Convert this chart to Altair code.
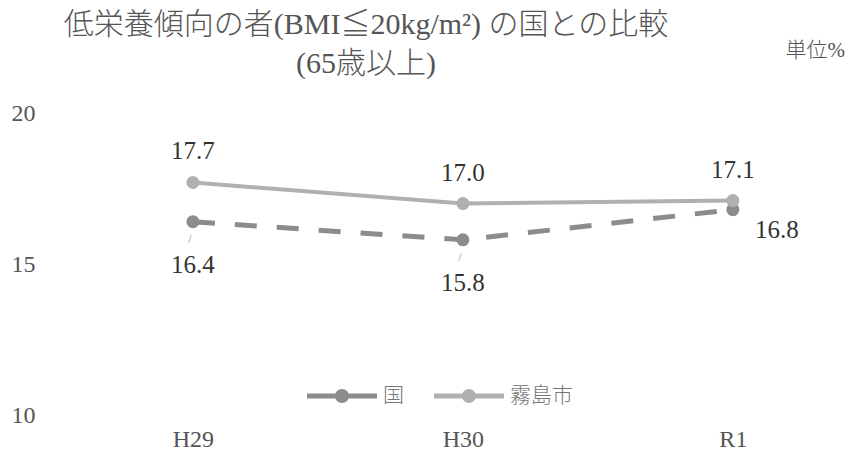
import altair as alt
import pandas as pd

years = ["H29", "H30", "R1"]
series_names = ["国", "霧島市"]
kuni = [16.4, 15.8, 16.8]
kirishima = [17.7, 17.0, 17.1]

rows = []
for i, y in enumerate(years):
    rows.append({"year": y, "series": "国", "value": kuni[i]})
    rows.append({"year": y, "series": "霧島市", "value": kirishima[i]})
df = pd.DataFrame(rows)

FONT = "Liberation Serif, Noto Sans CJK JP"
colors = ["#8c8c8c", "#b0b0b0"]

legend_path = ("M-1,-0.07H1V0.07H-1Z "
               "M0.2,0 A0.2,0.2 0 1,1 -0.2,0 A0.2,0.2 0 1,1 0.2,0Z")

x_enc = alt.X("year:N", sort=years,
              scale=alt.Scale(type="point", padding=0.515, align=0.55),
              axis=alt.Axis(title=None, labelAngle=0, domain=False, ticks=False,
                            labelFont=FONT, labelFontSize=24, labelColor="#555",
                            labelPadding=12, grid=False))
y_enc = alt.Y("value:Q", scale=alt.Scale(domain=[10, 20], nice=False, zero=False),
              axis=alt.Axis(values=[10, 15, 20], title="単位%", titleAngle=0,
                            titleX=745, titleY=-63, titleAlign="left",
                            titleBaseline="middle", titleFont=FONT,
                            titleFontSize=21, titleFontWeight=300,
                            titleColor="#555",
                            domain=False, ticks=False, grid=False,
                            labelFont=FONT, labelFontSize=24, labelColor="#555",
                            labelPadding=5))

base = alt.Chart(df)

line_kuni = base.transform_filter(alt.datum.series == "国").mark_line(
    strokeWidth=5, strokeDash=[22, 20], color=colors[0]
).encode(x=x_enc, y=y_enc)

line_kiri = base.transform_filter(alt.datum.series == "霧島市").mark_line(
    strokeWidth=4, color=colors[1]
).encode(x=x_enc, y=y_enc)

points = base.mark_point(filled=True, size=170, opacity=1).encode(
    x=x_enc, y=y_enc,
    color=alt.Color("series:N", scale=alt.Scale(domain=series_names, range=colors),
                    legend=alt.Legend(title=None, orient="none", direction="horizontal",
                                      legendX=267, legendY=248,
                                      symbolType=legend_path, symbolSize=4900,
                                      symbolStrokeWidth=0, symbolFillColor="#8c8c8c",
                                      labelFont=FONT, labelFontSize=21,
                                      labelFontWeight=300,
                                      labelColor="#777", columnPadding=30,
                                      labelOffset=6))
)

txt_kiri = base.transform_filter(alt.datum.series == "霧島市").mark_text(
    dy=-31, font=FONT, fontSize=25, color="#333"
).encode(x=x_enc, y=y_enc, text=alt.Text("value:Q", format=".1f"))

txt_kuni = base.transform_filter(
    (alt.datum.series == "国") & (alt.datum.year != "R1")
).mark_text(dy=43, font=FONT, fontSize=25, color="#333").encode(
    x=x_enc, y=y_enc, text=alt.Text("value:Q", format=".1f"))

txt_kuni_r1 = base.transform_filter(
    (alt.datum.series == "国") & (alt.datum.year == "R1")
).mark_text(dy=20, dx=44, font=FONT, fontSize=25, color="#333").encode(
    x=x_enc, y=y_enc, text=alt.Text("value:Q", format=".1f"))

leader = base.transform_filter(
    (alt.datum.series == "国") & (alt.datum.year != "R1")
).mark_text(dy=17, dx=-3, text="/", font=FONT, fontSize=12, color="#888").encode(
    x=x_enc, y=y_enc)

chart = alt.layer(line_kuni, line_kiri, points, txt_kiri, txt_kuni, txt_kuni_r1, leader).properties(
    width=818, height=302,
    autosize=alt.AutoSizeParams(type="none"),
    padding={"left": 40, "top": 113, "right": 0, "bottom": 37},
    title=alt.TitleParams(
        text=["低栄養傾向の者(BMI≦20kg/m²) の国との比較", "(65歳以上)"],
        anchor="middle", dx=-83, offset=-40, font=FONT, fontSize=30,
        fontWeight=300, color="#555", lineHeight=39)
).configure(background="white", view=alt.ViewConfig(stroke=None))

chart.save("out.html", embed_options={"renderer": "svg", "actions": False})
